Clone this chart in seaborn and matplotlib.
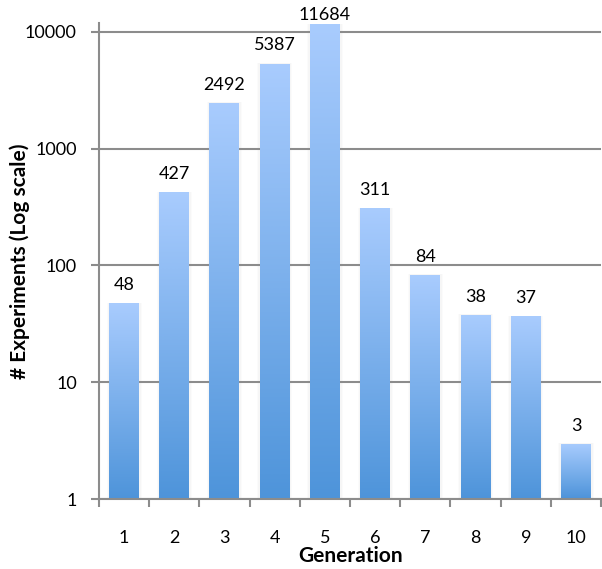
import numpy as np
import pandas as pd
import matplotlib
matplotlib.use("Agg")
import matplotlib.pyplot as plt
import matplotlib.transforms as mtransforms
from matplotlib.colors import LinearSegmentedColormap
import seaborn as sns

generations = ["1", "2", "3", "4", "5", "6", "7", "8", "9", "10"]
experiments = [48, 427, 2492, 5387, 11684, 311, 84, 38, 37, 3]
y_ticks = [1, 10, 100, 1000, 10000]
y_tick_labels = ["1", "10", "100", "1000", "10000"]

sns.set_theme(style="white")
plt.rcParams["font.family"] = ["Lato", "DejaVu Sans"]

df = pd.DataFrame({"Generation": generations, "Experiments": experiments})

fig = plt.figure(figsize=(6.02, 5.69), dpi=100)
ax = fig.add_axes([0.1645, 0.123, 0.834, 0.8366])

sns.barplot(data=df, x="Generation", y="Experiments", ax=ax, width=0.6,
            color="#6aa3e6", saturation=1, errorbar=None, log_scale=(False, True))

ymin, ymax = 1, 11900
ax.set_yscale("log")
ax.set_ylim(ymin, ymax)
ax.set_xlim(-0.5, len(generations) - 0.5)

# Light-to-dark vertical gradient for each bar
cmap = LinearSegmentedColormap.from_list("bar_grad", ["#4e94da", "#a9ccfe"])
grad = np.linspace(0, 1, 256).reshape(-1, 1)
blend = mtransforms.blended_transform_factory(ax.transData, ax.transAxes)
lmin, lmax = np.log10(ymin), np.log10(ymax)
for patch, val in zip(ax.patches, experiments):
    x0 = patch.get_x()
    w = patch.get_width()
    top = (np.log10(val) - lmin) / (lmax - lmin)
    # soft shadow beside the bar
    for k, a in [(0.05, 0.035), (0.03, 0.05)]:
        ax.add_patch(plt.Rectangle((x0 - k, 0), w + 2 * k, top, transform=blend,
                                   facecolor="#9a9a9a", alpha=a, edgecolor="none", zorder=2))
    patch.set_visible(False)
    ax.imshow(grad, cmap=cmap, origin="lower", aspect="auto",
              extent=[x0, x0 + w, 0, top], transform=blend, zorder=3,
              interpolation="bilinear")
    # the tallest label is nudged down so it stays inside the figure
    off = 1 if val > 10000 else 7
    ax.annotate(f"{val}", xy=(x0 + w / 2, val), xytext=(0, off),
                textcoords="offset points", ha="center", va="bottom",
                fontsize=13, color="black", annotation_clip=False, zorder=5)

ax.set_xlim(-0.5, len(generations) - 0.5)
ax.set_ylim(ymin, ymax)

ax.set_yticks(y_ticks)
ax.set_yticklabels(y_tick_labels)
ax.yaxis.set_minor_locator(matplotlib.ticker.NullLocator())
ax.set_xticks(range(len(generations)))
ax.set_xticklabels(generations)
ax.set_xticks(np.arange(-0.5, len(generations) + 0.5, 1), minor=True)

grid_c = "#8c8c8c"
ax.grid(axis="y", which="major", color=grid_c, linewidth=1.5, zorder=1)
ax.set_axisbelow(True)
for s in ["top", "right"]:
    ax.spines[s].set_visible(False)
for s in ["left", "bottom"]:
    ax.spines[s].set_color(grid_c)
    ax.spines[s].set_linewidth(1.5)
    ax.spines[s].set_zorder(4)

ax.tick_params(axis="x", which="major", length=0, pad=22, labelsize=13, colors="black")
ax.tick_params(axis="x", which="minor", length=6, width=1.5, color=grid_c, direction="out", bottom=True)
ax.tick_params(axis="y", which="major", length=6, width=1.5, color=grid_c, direction="out",
               left=True, labelsize=13, labelcolor="black", pad=10)

ax.set_xlabel("Generation", fontsize=15, fontweight="bold", labelpad=0, color="black")
ax.set_ylabel("# Experiments (Log scale)", fontsize=15, fontweight="bold", color="black")
ax.yaxis.set_label_coords(-0.138, 0.5)

fig.savefig("out.png", dpi=100)
